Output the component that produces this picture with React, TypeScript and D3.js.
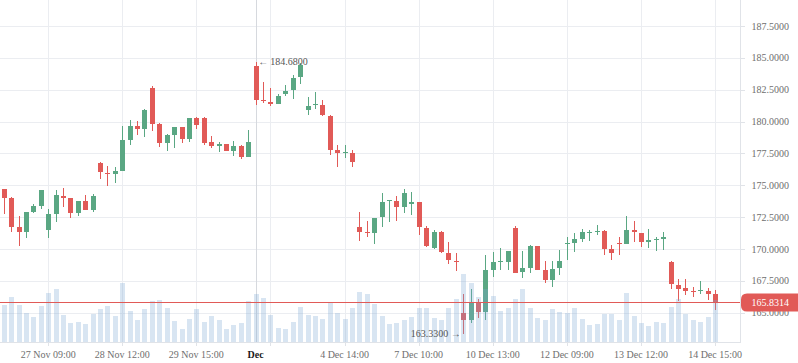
import React from 'react';
import * as d3 from 'd3';

// ---- data ----
const opens = [
  174.68, 173.97, 171.70, 171.33, 172.90, 173.37, 171.49, 172.75, 174.16, 173.97,
  172.82, 173.74, 173.06, 176.72, 175.94, 175.88, 176.12, 178.53, 179.64, 179.43,
  182.60, 179.79, 178.33, 178.93, 179.56, 178.65, 180.26, 180.26, 178.39, 178.10,
  178.23, 177.71, 178.07, 177.24, 184.40, 181.66, 181.56, 181.35, 182.14, 182.45,
  183.46, 180.89, 181.30, 181.33, 180.47, 177.73, 177.53, 177.50, 171.72, 171.35,
  171.28, 172.48, 173.77, 173.79, 173.27, 173.50, 173.71, 171.67, 170.09, 171.30,
  169.70, 169.07, 164.95, 164.45, 165.79, 165.06, 168.39, 168.97, 169.00, 171.65,
  168.16, 168.50, 170.22, 168.32, 167.53, 168.48, 170.41, 170.46, 170.78, 171.28,
  171.36, 171.42, 169.99, 170.46, 170.41, 171.49, 171.26, 170.57, 170.75, 170.81,
  168.95, 167.21, 166.92, 166.73, 166.71, 166.73, 166.49,
];
const highs = [
  174.72, 174.05, 172.56, 172.90, 173.50, 174.62, 173.11, 174.60, 174.76, 174.03,
  173.75, 174.21, 174.29, 176.83, 176.49, 176.41, 179.62, 180.09, 180.03, 180.96,
  182.76, 179.87, 179.01, 179.56, 179.57, 180.26, 180.34, 180.34, 178.85, 178.39,
  178.24, 178.46, 178.15, 179.32, 184.68, 183.14, 182.66, 182.16, 182.84, 183.65,
  184.56, 181.95, 182.34, 181.72, 180.55, 178.20, 178.20, 177.73, 172.89, 172.19,
  172.45, 174.40, 173.84, 174.13, 174.74, 174.48, 173.72, 171.83, 171.49, 171.38,
  170.57, 169.70, 166.47, 166.87, 166.05, 169.54, 169.80, 170.09, 169.86, 171.81,
  169.83, 170.30, 170.23, 169.03, 169.03, 169.91, 170.97, 171.26, 171.57, 171.52,
  171.92, 171.49, 170.33, 170.94, 172.61, 172.21, 171.27, 171.57, 170.91, 171.34,
  169.03, 167.68, 167.68, 167.05, 167.45, 166.97, 166.81,
];
const lows = [
  172.75, 171.31, 170.24, 170.86, 172.80, 173.11, 170.86, 172.12, 173.30, 172.43,
  172.59, 173.05, 172.90, 175.49, 174.94, 175.18, 176.10, 178.13, 178.93, 178.78,
  179.25, 178.02, 177.68, 177.94, 178.31, 178.41, 179.43, 178.15, 177.94, 177.60,
  177.70, 177.32, 177.08, 177.23, 181.29, 181.42, 181.20, 181.34, 181.98, 181.75,
  182.92, 180.50, 180.96, 180.42, 177.37, 176.43, 177.14, 176.43, 170.65, 170.91,
  170.42, 171.70, 172.09, 172.17, 172.80, 172.64, 171.07, 170.12, 170.02, 169.65,
  168.81, 168.31, 163.33, 164.22, 164.61, 164.43, 167.84, 168.39, 168.32, 168.11,
  167.71, 168.11, 168.32, 167.31, 167.00, 167.92, 169.11, 169.75, 170.54, 170.65,
  171.10, 169.54, 169.14, 169.54, 170.40, 170.57, 170.17, 170.09, 169.85, 169.93,
  166.84, 165.94, 166.41, 166.26, 166.49, 166.02, 165.22,
];
const closes = [
  174.00, 171.73, 171.33, 172.88, 173.35, 174.60, 172.72, 174.21, 174.00, 172.82,
  173.74, 173.06, 174.13, 176.04, 175.88, 176.09, 178.53, 179.62, 179.45, 180.89,
  179.82, 178.33, 178.93, 179.56, 178.65, 180.26, 179.74, 178.33, 178.10, 178.23,
  177.71, 178.07, 177.24, 178.39, 181.68, 181.58, 181.35, 182.03, 182.42, 183.44,
  184.45, 181.25, 181.35, 180.50, 177.76, 177.53, 177.58, 176.82, 171.35, 171.28,
  172.45, 173.70, 173.82, 173.27, 174.40, 173.69, 171.69, 170.20, 171.30, 169.73,
  169.10, 168.97, 164.43, 165.79, 165.08, 168.36, 168.99, 169.02, 169.85, 168.11,
  168.48, 170.22, 168.37, 167.53, 168.40, 169.03, 170.46, 170.78, 171.34, 171.34,
  171.42, 170.01, 169.70, 170.41, 171.49, 171.34, 170.57, 170.70, 170.81, 170.94,
  167.23, 166.89, 166.73, 166.65, 166.76, 166.49, 165.8314,
];
const volumes = [
  3700, 4500, 3700, 2900, 2500, 3600, 4900, 5300, 2700, 1900,
  2000, 1800, 2800, 3300, 3600, 2600, 5900, 3100, 2200, 3300,
  4100, 4200, 3400, 2100, 1300, 2300, 3300, 2000, 2600, 2200,
  1300, 1700, 1900, 4100, 4800, 4400, 2700, 1400, 1300, 2000,
  3500, 2700, 2600, 2300, 3900, 2900, 2300, 3400, 5000, 4800,
  3800, 2600, 1800, 1900, 2200, 2500, 3400, 3400, 2400, 2200,
  3400, 4300, 6800, 5900, 4500, 5300, 4600, 3100, 3400, 4300,
  5300, 3400, 2400, 2200, 3300, 3000, 2900, 3400, 2300, 1700,
  1800, 2800, 2800, 2200, 4900, 2600, 1900, 1600, 2000, 1900,
  3500, 4300, 2800, 2200, 2000, 2500, 4200,
];
const priceTicks = [165, 167.5, 170, 172.5, 175, 177.5, 180, 182.5, 185, 187.5];
const timeTickIndex = [6, 16, 26, 36, 46, 56, 66, 76, 86, 96];
const timeTickLabels = [
  '27 Nov 09:00', '28 Nov 12:00', '29 Nov 15:00', '', '4 Dec 14:00',
  '7 Dec 10:00', '10 Dec 13:00', '12 Dec 09:00', '13 Dec 12:00', '14 Dec 15:00',
];
const markerIndex = 34;
const markerLabel = 'Dec';
const lastPrice = 165.8314;

// ---- layout ----
const W = 798;
const H = 363;
const PANE_R = 741;
const PANE_B = 342;
const UP = '#5aa783';
const DOWN = '#e15a57';
const GRID = '#ebedf1';
const TEXT = '#6e6e6e';
const FONT = '"Liberation Serif", "Times New Roman", serif';

export default function App() {
  const n = opens.length;
  const x = d3.scaleLinear().domain([0, n - 1]).range([3.7, 715.1]);
  const y = d3.scaleLinear().domain([165, 187.5]).range([312.7, 26]);
  const vy = d3.scaleLinear().domain([0, d3.max(volumes) as number]).range([PANE_B, PANE_B - 0.2 * PANE_B]);
  const crisp = (v: number) => Math.round(v) + 0.5;

  const hiIdx = d3.maxIndex(highs);
  const loIdx = d3.minIndex(lows);
  const hi = highs[hiIdx];
  const lo = lows[loIdx];
  const lastY = crisp(y(lastPrice));
  const up = closes[n - 1] >= opens[n - 1];
  const lastColor = up ? UP : DOWN;

  return (
    <svg width={W} height={H} style={{ position: 'absolute', left: 0, top: 0, background: '#fff' }} fontFamily={FONT}>
      <rect x={0} y={0} width={W} height={H} fill="#fff" />
      {/* grid */}
      {priceTicks.map((p) => (
        <line key={'hg' + p} x1={0} x2={PANE_R} y1={crisp(y(p))} y2={crisp(y(p))} stroke={GRID} strokeWidth={1} />
      ))}
      {timeTickIndex.map((i) => (
        <line key={'vg' + i} x1={crisp(x(i))} x2={crisp(x(i))} y1={0} y2={PANE_B} stroke={GRID} strokeWidth={1} />
      ))}
      <line x1={crisp(x(markerIndex))} x2={crisp(x(markerIndex))} y1={0} y2={PANE_B} stroke="#d6d9de" strokeWidth={1} />

      {/* candles */}
      {opens.map((o, i) => {
        const c = closes[i];
        const col = c >= o ? UP : DOWN;
        const cx = Math.round(x(i));
        const top = Math.round(y(Math.max(o, c)));
        const bot = Math.round(y(Math.min(o, c)));
        const wt = Math.round(y(highs[i]));
        const wb = Math.round(y(lows[i]));
        return (
          <g key={'c' + i}>
            <rect x={cx} y={wt} width={1} height={Math.max(1, wb - wt)} fill={col} />
            <rect x={cx - 2} y={top} width={5} height={Math.max(1, bot - top)} fill={col} />
          </g>
        );
      })}

      {/* volume */}
      {volumes.map((v, i) => {
        const cx = Math.round(x(i));
        const t = Math.round(vy(v));
        return <rect key={'v' + i} x={cx - 2} y={t} width={5} height={PANE_B - t} fill="rgba(125,168,212,0.3)" />;
      })}

      {/* last price line */}
      <line x1={0} x2={PANE_R} y1={lastY} y2={lastY} stroke={lastColor} strokeWidth={1} />

      {/* high / low markers */}
      <text x={x(hiIdx) + 2.5} y={y(hi) + 3.5} fontSize={10} fill="#555">
        {'\u2190'}
      </text>
      <text x={x(hiIdx) + 14.5} y={y(hi) + 3.5} fontSize={10} fill="#555">
        {hi.toFixed(4)}
      </text>
      <text x={x(loIdx) - 2.5} y={y(lo) + 3.5} fontSize={10} fill="#555" textAnchor="end">
        {lo.toFixed(4) + ' \u2192'}
      </text>

      {/* axes */}
      <line x1={PANE_R - 0.5} x2={PANE_R - 0.5} y1={0} y2={PANE_B} stroke="#e0e3e8" />
      <line x1={0} x2={PANE_R} y1={PANE_B + 0.5} y2={PANE_B + 0.5} stroke="#e0e3e8" />
      {priceTicks.map((p) => (
        <g key={'pt' + p}>
          <line x1={PANE_R} x2={PANE_R + 4} y1={crisp(y(p))} y2={crisp(y(p))} stroke="#e0e3e8" />
          <text x={751.5} y={y(p) + 3.6} fontSize={10} fill={TEXT}>
            {p.toFixed(4)}
          </text>
        </g>
      ))}
      {timeTickIndex.map((i, k) => (
        <g key={'tt' + i}>
          <line x1={crisp(x(i))} x2={crisp(x(i))} y1={PANE_B} y2={PANE_B + 4} stroke="#e0e3e8" />
          {timeTickLabels[k] && (
            <text x={x(i)} y={357.5} fontSize={10} fill={TEXT} textAnchor="middle">
              {timeTickLabels[k]}
            </text>
          )}
        </g>
      ))}
      <text x={x(markerIndex)} y={357.5} fontSize={10} fontWeight="bold" fill="#1a1a1a" textAnchor="middle">
        {markerLabel}
      </text>

      {/* last price label */}
      <path
        d={`M${W},${lastY - 9} L${PANE_R + 6},${lastY - 9} Q${PANE_R},${lastY - 9} ${PANE_R},${lastY - 3} L${PANE_R},${lastY + 3} Q${PANE_R},${lastY + 9} ${PANE_R + 6},${lastY + 9} L${W},${lastY + 9} Z`}
        fill={lastColor}
      />
      <text x={751.5} y={lastY + 3.6} fontSize={10} fill="#fff">
        {lastPrice.toFixed(4)}
      </text>
    </svg>
  );
}
